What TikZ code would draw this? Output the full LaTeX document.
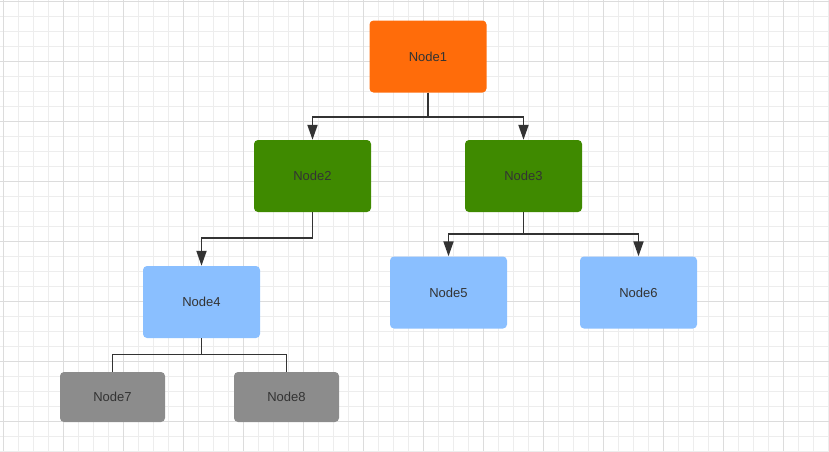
\documentclass[tikz,border=0pt]{standalone}
\usepackage{fontspec}
\setmainfont{Liberation Sans}
\usetikzlibrary{arrows.meta, calc}

\definecolor{rootorange}{HTML}{FF6C0A}
\definecolor{leafgreen}{HTML}{3F8A00}
\definecolor{skyblue}{HTML}{8ABFFF}
\definecolor{stonegray}{HTML}{8C8C8C}
\definecolor{inkgray}{HTML}{333333}
\definecolor{gridminor}{HTML}{EDEDED}
\definecolor{gridmajor}{HTML}{DCDCDC}

\begin{document}
\begin{tikzpicture}[x=1pt,y=-1pt,
    box/.style={rounded corners=4pt, inner sep=0pt, text=inkgray,
        font=\fontsize{13}{15}\selectfont, minimum width=117pt, minimum height=72pt},
    smallbox/.style={box, minimum width=105pt, minimum height=50pt},
    link/.style={draw=inkgray, line width=1.8pt, -{Triangle[length=15pt, width=10pt]}},
    thinlink/.style={draw=inkgray, line width=1.2pt}]
    \useasboundingbox (0,0) rectangle (829,451);

    % background grid
    \foreach \x in {3,18,...,828} {
            \draw[gridminor, line width=0.8pt] (\x,0) -- (\x,451);
        }
    \foreach \y in {1,16,...,451} {
            \draw[gridminor, line width=0.8pt] (0,\y) -- (829,\y);
        }
    \foreach \x in {3,63,...,828} {
            \draw[gridmajor, line width=1pt] (\x,0) -- (\x,451);
        }
    \foreach \y in {1,61,...,451} {
            \draw[gridmajor, line width=1pt] (0,\y) -- (829,\y);
        }

    % nodes
    \node[box, fill=rootorange] (n1) at (428,56.5) {Node1};
    \node[box, fill=leafgreen] (n2) at (312.5,176) {Node2};
    \node[box, fill=leafgreen] (n3) at (523.5,176) {Node3};
    \node[box, fill=skyblue] (n4) at (201.5,302) {Node4};
    \node[box, fill=skyblue] (n5) at (448.5,292.5) {Node5};
    \node[box, fill=skyblue] (n6) at (638.5,292.5) {Node6};
    \node[smallbox, fill=stonegray] (n7) at (112.5,397) {Node7};
    \node[smallbox, fill=stonegray] (n8) at (286.5,397) {Node8};

    % edges
    \foreach \src/\dst/\drop in {n1/n2/24, n1/n3/24, n2/n4/26, n3/n5/22, n3/n6/22} {
            \draw[link] (\src.south) -- ++(0,\drop) -| (\dst.north);
        }
    \foreach \dst in {n7, n8} {
            \draw[thinlink] (n4.south) -- ++(0,16) -| (\dst.north);
        }
\end{tikzpicture}
\end{document}
